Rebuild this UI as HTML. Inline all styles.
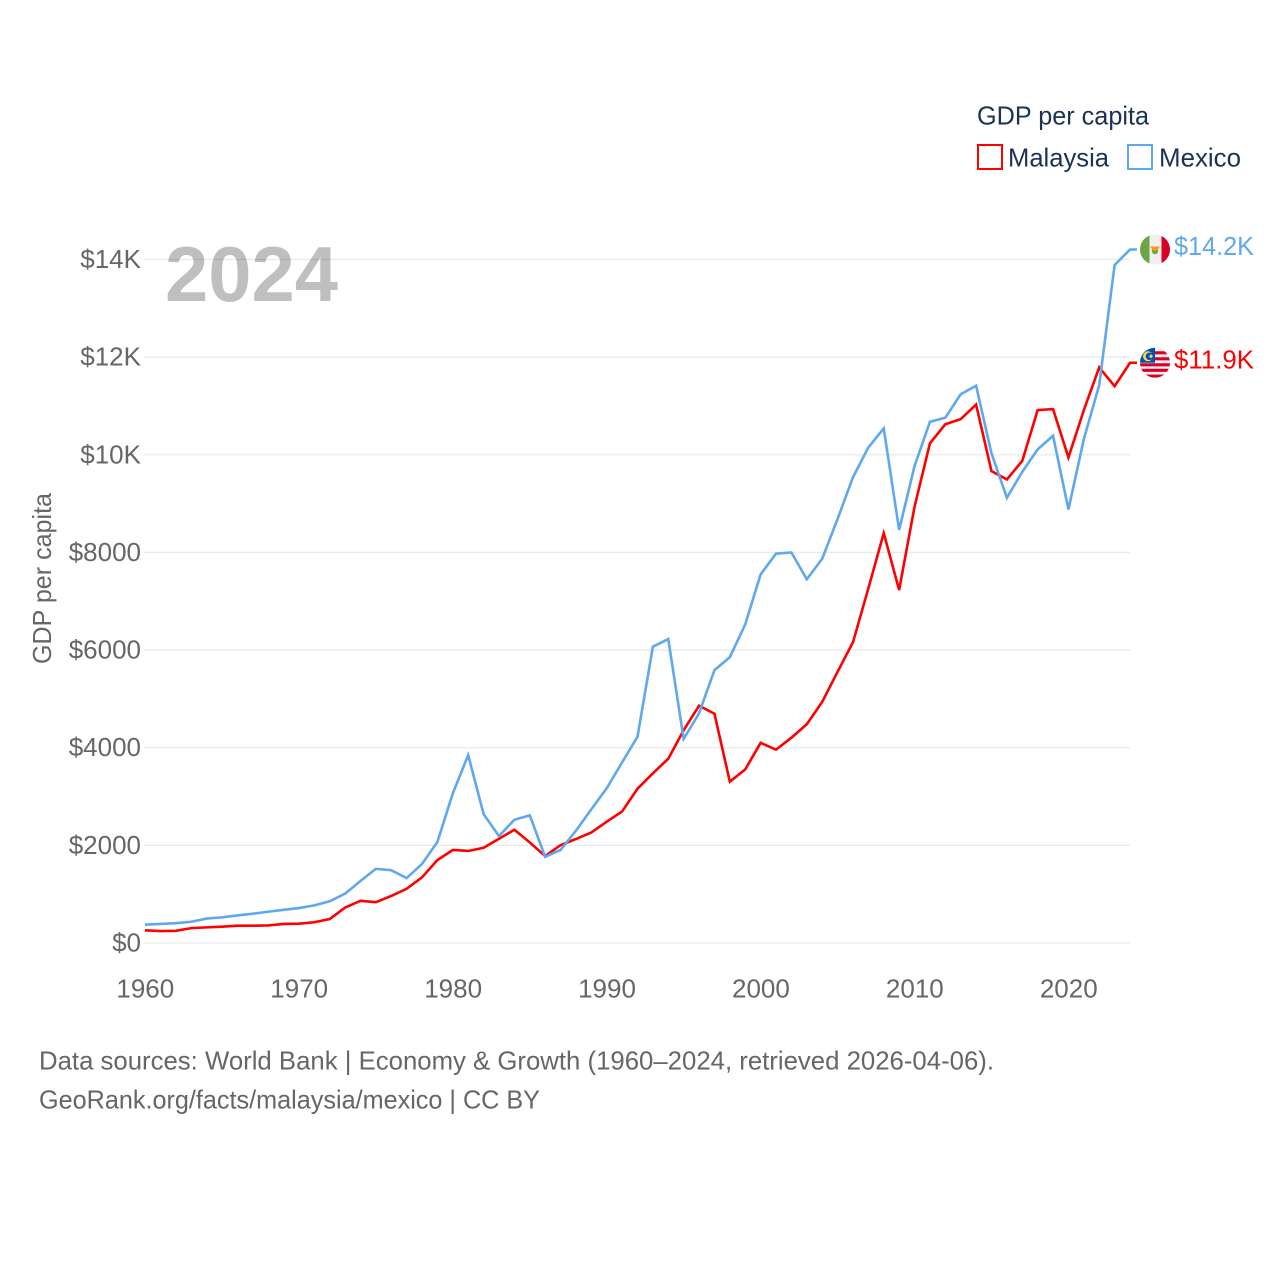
<!DOCTYPE html>
<html lang="en">
<head>
<meta charset="utf-8">
<title>GDP per capita: Malaysia and Mexico</title>
<style>
  html, body { margin: 0; padding: 0; background: #fff; }
  svg { display: block; }
  text { font-family: "Liberation Sans", sans-serif; }
</style>
</head>
<body>
<svg id="chart" width="1280" height="1280" viewBox="0 0 1280 1280" xmlns="http://www.w3.org/2000/svg">
  <defs>
    <clipPath id="flag-clip"><circle cx="0" cy="0" r="15"></circle></clipPath>
  </defs>
  <rect x="0" y="0" width="1280" height="1280" fill="#ffffff"></rect>
  <g id="grid"></g>
  <g id="y-ticks"></g>
  <g id="x-ticks"></g>
  <text x="165" y="301" font-size="78" font-weight="700" fill="#000000" fill-opacity="0.25" textLength="173" lengthAdjust="spacingAndGlyphs">2024</text>
  <text transform="translate(51 578.5) rotate(-90)" text-anchor="middle" font-size="26" fill="#666666" textLength="171" lengthAdjust="spacingAndGlyphs">GDP per capita</text>
  <g id="series"></g>
  <g id="ends"></g>

  <g>
    <text x="977" y="124.5" font-size="26" fill="#1a3354" textLength="172" lengthAdjust="spacingAndGlyphs">GDP per capita</text>
    <g>
      <rect x="978" y="145" width="24" height="24" fill="none" stroke="#ff0000" stroke-width="2"></rect>
      <text x="1008" y="166.5" font-size="26" fill="#1a3354" textLength="101" lengthAdjust="spacingAndGlyphs">Malaysia</text>
    </g>
    <g>
      <rect x="1128" y="145" width="24" height="24" fill="none" stroke="#5fa8ee" stroke-width="2"></rect>
      <text x="1159" y="166.5" font-size="26" fill="#1a3354" textLength="82" lengthAdjust="spacingAndGlyphs">Mexico</text>
    </g>
  </g>

  <text x="39" y="1069.5" font-size="26" fill="#666666" textLength="955" lengthAdjust="spacingAndGlyphs">Data sources: World Bank | Economy &amp; Growth (1960–2024, retrieved 2026-04-06).</text>
  <text x="39" y="1108.5" font-size="26" fill="#666666" textLength="501" lengthAdjust="spacingAndGlyphs">GeoRank.org/facts/malaysia/mexico | CC BY</text>
</svg>

<script>
const firstYear = 1960;
const malaysiaValues = [260, 245, 250, 305, 320, 335, 355, 355, 360, 390,
  395, 425, 490, 725, 865, 835, 965, 1110, 1345, 1700,
  1905, 1885, 1950, 2135, 2320, 2060, 1780, 2005, 2130, 2265,
  2485, 2695, 3160, 3475, 3775, 4360, 4860, 4695, 3305, 3555,
  4100, 3960, 4205, 4480, 4940, 5555, 6160, 7265, 8395, 7230,
  8935, 10235, 10625, 10730, 11030, 9665, 9495, 9875, 10915, 10935,
  9945, 10915, 11790, 11405, 11885];
const mexicoValues = [375, 390, 405, 435, 500, 525, 565, 600, 640, 680,
  715, 770, 855, 1010, 1270, 1520, 1490, 1330, 1620, 2070,
  3065, 3850, 2640, 2190, 2525, 2615, 1765, 1905, 2300, 2740,
  3170, 3700, 4225, 6070, 6225, 4180, 4705, 5590, 5855, 6525,
  7550, 7975, 8000, 7450, 7870, 8685, 9540, 10150, 10540, 8460,
  9770, 10675, 10760, 11240, 11415, 10030, 9120, 9650, 10110, 10390,
  8880, 10320, 11430, 13885, 14205];
const yTickValues = [0, 2000, 4000, 6000, 8000, 10000, 12000, 14000];
const yTickLabels = ["$0", "$2000", "$4000", "$6000", "$8000", "$10K", "$12K", "$14K"];
const xTickValues = [1960, 1970, 1980, 1990, 2000, 2010, 2020];
const xTickLabels = ["1960", "1970", "1980", "1990", "2000", "2010", "2020"];

const SVG_NS = "http://www.w3.org/2000/svg";
const plotLeft = 145, plotRight = 1130, zeroY = 943, topY = 259.5;

function xScale(year) {
  return plotLeft + (year - 1960) * (plotRight - plotLeft) / 64;
}
function yScale(value) {
  return zeroY - value * (zeroY - topY) / 14000;
}
function make(tag, attrs, parent) {
  const el = document.createElementNS(SVG_NS, tag);
  for (const k in attrs) el.setAttribute(k, attrs[k]);
  parent.appendChild(el);
  return el;
}
function formatEnd(v) {
  return "$" + (v / 1000).toFixed(1) + "K";
}

const grid = document.getElementById("grid");
const yTicksGroup = document.getElementById("y-ticks");
const xTicksGroup = document.getElementById("x-ticks");
const seriesGroup = document.getElementById("series");
const endsGroup = document.getElementById("ends");

yTickValues.forEach(function (v, i) {
  const y = yScale(v);
  const line = make("line", { x1: plotLeft - 0.5, x2: plotRight, y1: y, y2: y, stroke: "#e9e9e9", "stroke-width": 1.3 }, grid);
  
  
  const label = make("text", { x: 141, y: y + 8.5, "text-anchor": "end", "font-size": 26, fill: "#666666" }, yTicksGroup);
  
  
  label.textContent = yTickLabels[i];
});

xTickValues.forEach(function (v, i) {
  const label = make("text", { x: xScale(v) + 0.3, y: 997.5, "text-anchor": "middle", "font-size": 26, fill: "#666666" }, xTicksGroup);
  
  
  label.textContent = xTickLabels[i];
});

function drawLine(values, color) {
  const pts = values.map(function (v, i) {
    return xScale(firstYear + i).toFixed(2) + "," + yScale(v).toFixed(2);
  });
  const lastValue = values[values.length - 1];
  pts.push((plotRight + 7).toFixed(2) + "," + yScale(lastValue).toFixed(2));
  return make("polyline", {
    points: pts.join(" "), fill: "none", stroke: color,
    "stroke-width": 2.6, "stroke-linejoin": "miter"
  }, seriesGroup);
}

const malaysiaLine = drawLine(malaysiaValues, "#ff0000");


const mexicoLine = drawLine(mexicoValues, "#5fa8ee");



/* Mexico end marker */
const mexicoLast = mexicoValues[mexicoValues.length - 1];
const mexicoFlag = make("g", { transform: "translate(1155 " + yScale(mexicoLast) + ")" }, endsGroup);


const mexicoClip = make("g", { "clip-path": "url(#flag-clip)" }, mexicoFlag);
make("rect", { x: -15, y: -15, width: 30, height: 30, fill: "#f0f0f0" }, mexicoClip);
make("rect", { x: -15, y: -15, width: 9.5, height: 30, fill: "#6da544" }, mexicoClip);
make("rect", { x: 6.5, y: -15, width: 8.5, height: 30, fill: "#d80027" }, mexicoClip);
make("circle", { cx: 0, cy: 1.5, r: 3.2, fill: "#6da544" }, mexicoClip);
make("path", { d: "M-5 -3 L5 -3 L2 1.2 L-2 1.2 Z", fill: "#ff9811" }, mexicoClip);
const mexicoLabel = make("text", { x: 1174, y: yScale(mexicoLast) + 5.7, "font-size": 26, fill: "#5fa8ee", textLength: 80, lengthAdjust: "spacingAndGlyphs" }, endsGroup);


mexicoLabel.textContent = formatEnd(mexicoLast);

/* Malaysia end marker */
const malaysiaLast = malaysiaValues[malaysiaValues.length - 1];
const malaysiaFlag = make("g", { transform: "translate(1155 " + yScale(malaysiaLast) + ")" }, endsGroup);


const malaysiaClip = make("g", { "clip-path": "url(#flag-clip)" }, malaysiaFlag);
make("rect", { x: -15, y: -15, width: 30, height: 30, fill: "#f0f0f0" }, malaysiaClip);
[-11.5, -5.5, 0.5, 6, 11.8].forEach(function (stripeY) {
  make("rect", { x: -15, y: stripeY, width: 30, height: 3.1, fill: "#d80027" }, malaysiaClip);
});
make("rect", { x: -15, y: -15, width: 15, height: 15, fill: "#0052b4" }, malaysiaClip);
make("circle", { cx: -7, cy: -6.5, r: 5, fill: "#ffda44" }, malaysiaClip);
make("circle", { cx: -5.5, cy: -6.5, r: 3.8, fill: "#0052b4" }, malaysiaClip);
make("circle", { cx: -4, cy: -6.5, r: 1.6, fill: "#ffda44" }, malaysiaClip);
const malaysiaLabel = make("text", { x: 1174, y: yScale(malaysiaLast) + 5.7, "font-size": 26, fill: "#ff0000", textLength: 80, lengthAdjust: "spacingAndGlyphs" }, endsGroup);


malaysiaLabel.textContent = formatEnd(malaysiaLast);
</script>
</body>
</html>
